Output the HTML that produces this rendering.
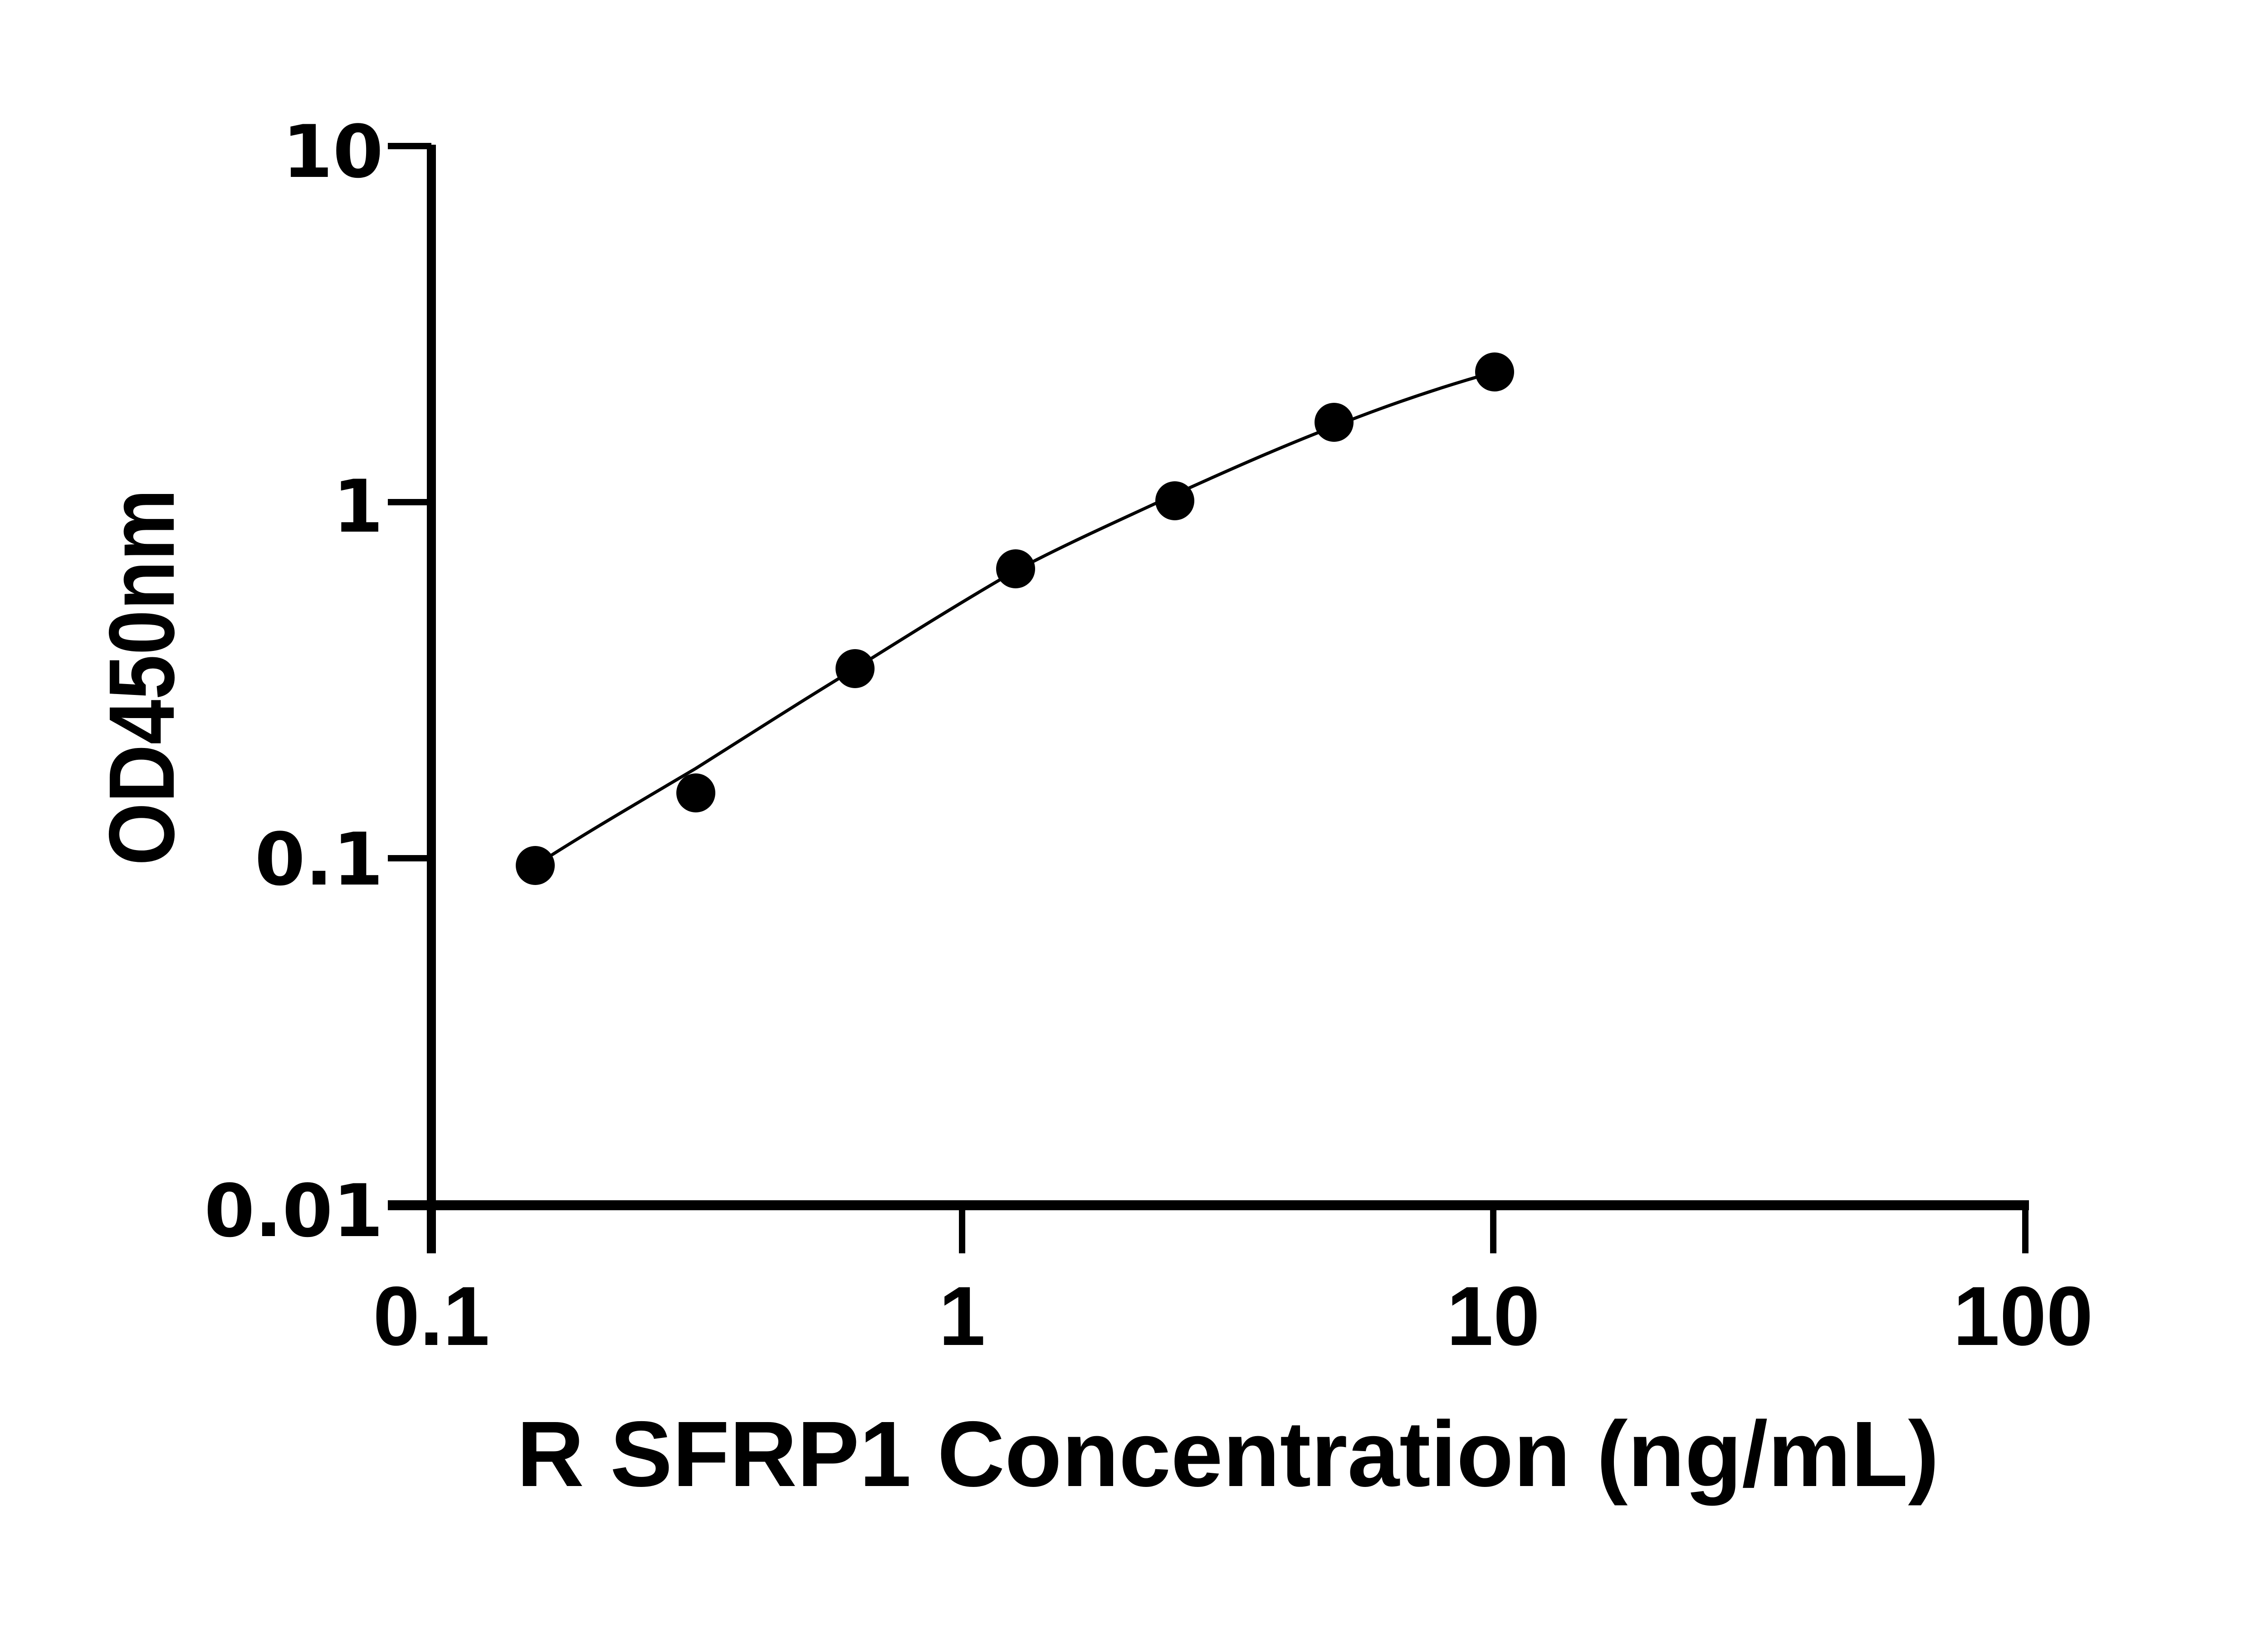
<!DOCTYPE html>
<html><head><style>html,body{margin:0;padding:0;background:#fff;}svg{display:block;}</style></head>
<body>
<svg width="5130" height="3600" viewBox="0 0 5130 3600" xmlns="http://www.w3.org/2000/svg">
<g stroke="#000" fill="none" stroke-linecap="butt">
<line x1="951" y1="319" x2="951" y2="2763" stroke-width="20"/>
<line x1="855" y1="2657" x2="4473" y2="2657" stroke-width="22"/>
<line x1="855" y1="322" x2="951" y2="322" stroke-width="14"/>
<line x1="855" y1="1107" x2="951" y2="1107" stroke-width="14"/>
<line x1="855" y1="1892" x2="951" y2="1892" stroke-width="14"/>
<line x1="2121" y1="2657" x2="2121" y2="2763" stroke-width="14"/>
<line x1="3292" y1="2657" x2="3292" y2="2763" stroke-width="14"/>
<line x1="4465" y1="2657" x2="4465" y2="2763" stroke-width="14"/>
<path d="M1180,1908 C1298,1832 1416,1764 1534,1694 C1651,1620 1768,1545 1885,1474 C2003,1400 2121,1326 2239,1258 C2356,1196 2473,1145 2590,1090 C2707,1037 2824,985 2941,940 C3059,893 3177,853 3295,820" stroke-width="7"/>
</g>
<g fill="#000">
<circle cx="1180" cy="1908" r="43"/>
<circle cx="1534" cy="1748" r="43"/>
<circle cx="1885" cy="1474" r="43"/>
<circle cx="2239" cy="1254" r="43"/>
<circle cx="2590" cy="1104" r="43"/>
<circle cx="2941" cy="931" r="43"/>
<circle cx="3295" cy="820" r="43"/>
</g>
<g font-family="'DejaVu Sans', sans-serif" font-weight="bold" fill="#000">
<text x="845" y="390" font-size="160" text-anchor="end">10</text>
<text x="845" y="1172" font-size="160" text-anchor="end">1</text>
<text x="845" y="1950" font-size="160" text-anchor="end">0.1</text>
<text x="845" y="2725" font-size="160" text-anchor="end">0.01</text>
</g>
<g font-family="'Liberation Sans', sans-serif" font-weight="bold" fill="#000">
<text x="951" y="2965" font-size="185" text-anchor="middle">0.1</text>
<text x="2121" y="2965" font-size="185" text-anchor="middle">1</text>
<text x="3292" y="2965" font-size="185" text-anchor="middle">10</text>
<text x="4460" y="2965" font-size="185" text-anchor="middle">100</text>
<text x="2707" y="3276" font-size="205" text-anchor="middle" textLength="3136" lengthAdjust="spacingAndGlyphs">R SFRP1 Concentration (ng/mL)</text>
<text transform="translate(383,1493) rotate(-90)" font-size="205" text-anchor="middle" textLength="830" lengthAdjust="spacingAndGlyphs">OD450nm</text>
</g>
</svg>
</body></html>
